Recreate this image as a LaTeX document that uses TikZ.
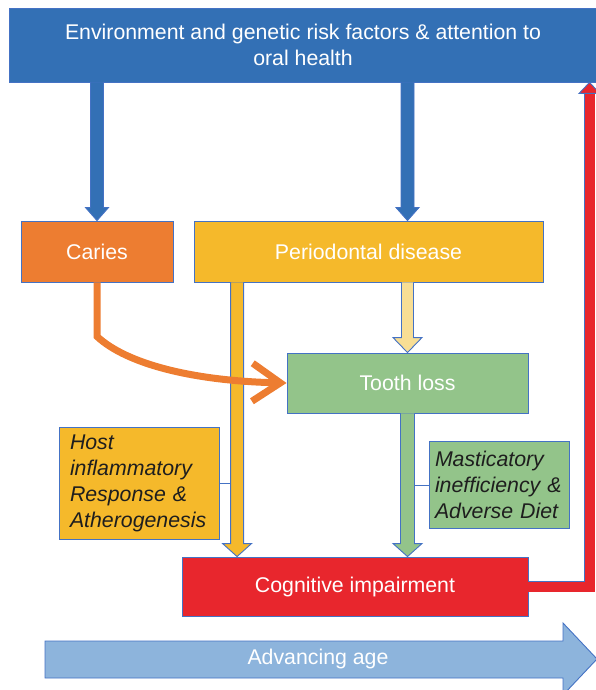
\documentclass[tikz,border=0pt]{standalone}
\usepackage{fontspec}
\setmainfont{Liberation Sans}
\usetikzlibrary{arrows.meta,calc}
\definecolor{topblue}{HTML}{3370B5}
\definecolor{edge}{HTML}{4472C4}
\definecolor{orangec}{HTML}{ED7D31}
\definecolor{gold}{HTML}{F5B92B}
\definecolor{lightgold}{HTML}{F8DE94}
\definecolor{greenc}{HTML}{93C48A}
\definecolor{redc}{HTML}{E8262D}
\definecolor{ageblue}{HTML}{8DB4DC}
\definecolor{darktext}{HTML}{1E1E1E}
\newcommand\blockdown[6]{%
  \path[fill=#6, draw=edge, line width=0.9pt, line join=miter]
    let \p1=(#1), \p2=(#2) in
    (\x1-#3,\y1) -- (\x1-#3,\y2+#5) -- (\x1-#4,\y2+#5) -- (\x1,\y2)
    -- (\x1+#4,\y2+#5) -- (\x1+#3,\y2+#5) -- (\x1+#3,\y1);
}
\begin{document}
\begin{tikzpicture}[x=1pt,y=-1pt,
  box/.style={draw=edge, line width=0.9pt, text=white, inner sep=0pt,
    align=center, font=\fontsize{21.3}{26}\selectfont},
  note/.style={box, text=darktext, align=left,
    font=\fontsize{21.3}{26}\selectfont\itshape},
  thin/.style={draw=edge, line width=0.9pt}]
\useasboundingbox (0,0) rectangle (596,690);

% advancing age arrow
\path[fill=ageblue, draw=edge, line width=0.9pt]
  (45,641) -- (563,641) -- (563,623) -- (597,659) -- (563,695) -- (563,678) -- (45,678) -- cycle;
\node[text=white, font=\fontsize{21.3}{26}\selectfont] (age) at (318,659) {Advancing age};

% boxes
\node[box, fill=topblue, minimum width=588pt, minimum height=74pt] (top) at (303,45)
  {Environment and genetic risk factors \& attention to\\oral health};
\node[box, fill=orangec, minimum width=152pt, minimum height=61pt] (caries) at (97,251.5) {Caries};
\node[box, fill=gold, minimum width=349pt, minimum height=61pt] (peri) at (368.5,251.5) {Periodontal disease};
\node[box, fill=greenc, minimum width=241pt, minimum height=60pt] (tooth) at (407.5,383) {Tooth loss};
\node[note, fill=gold, text width=138pt, minimum width=160pt, minimum height=112pt] (host) at (139,483)
  {Host\\inflammatory\\Response \&\\Atherogenesis};
\node[note, fill=greenc, text width=128pt, minimum width=140pt, minimum height=87pt] (mast) at (499,485)
  {Masticatory\\inefficiency \&\\Adverse Diet};
\node[box, fill=redc, minimum width=346pt, minimum height=59pt] (cog) at (355,586.5) {Cognitive impairment};

\coordinate (yx) at ([xshift=43.5pt]peri.south west);
\coordinate (rc) at (589.5,586.5);

% block arrows
\blockdown{top.south -| caries.north}{caries.north}{6.5pt}{11.5pt}{13pt}{topblue}
\blockdown{top.south -| tooth.north}{peri.north -| tooth.north}{6.5pt}{11.5pt}{13pt}{topblue}
\blockdown{peri.south -| tooth.north}{tooth.north}{6pt}{14.5pt}{15pt}{lightgold}
\blockdown{yx}{cog.north -| yx}{6.5pt}{14.5pt}{13pt}{gold}
\blockdown{tooth.south}{cog.north -| tooth.south}{7pt}{14.5pt}{13pt}{greenc}

% side connectors
\draw[thin] (host.east) -- ($(host.east -| yx)+(-6.5,0)$);
\draw[thin] (mast.west) -- ($(mast.west -| tooth.south)+(7,0)$);

% caries -> tooth loss
\draw[orangec, line width=7pt, line join=miter, -{Straight Barb[length=28pt,width=38pt]}]
  (caries.south) -- ++(0,54) .. controls +(30,28) and +(-92,-2) .. (tooth.west);

% feedback red arrow
\draw[edge, line width=11.8pt, line join=miter] (cog.east) -- (rc) -- ($(rc |- top.south)+(0,11)$);
\draw[redc, line width=10pt, line join=miter] (cog.east) -- (rc) -- ($(rc |- top.south)+(0,11)$);
\path[fill=redc, draw=edge, line width=0.9pt]
  ($(rc |- top.south)+(-10.5,11)$) -- (rc |- top.south) -- ($(rc |- top.south)+(10.5,11)$) -- cycle;
\end{tikzpicture}
\end{document}
